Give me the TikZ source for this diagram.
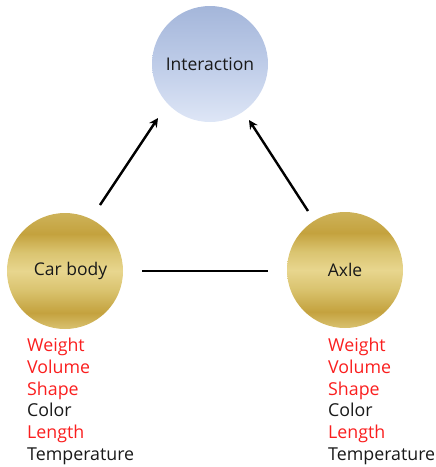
\documentclass[tikz,border=0pt]{standalone}
\usepackage{fontspec}
\setmainfont{Open Sans}
\usetikzlibrary{arrows.meta}
\definecolor{lred}{RGB}{250,30,30}
\definecolor{txt}{RGB}{25,25,25}
\definecolor{gold1}{RGB}{232,214,142}
\definecolor{gold2}{RGB}{196,162,62}
\definecolor{gold3}{RGB}{218,196,112}
\definecolor{gold4}{RGB}{206,180,92}
\definecolor{gold5}{RGB}{226,208,134}
\definecolor{blu1}{RGB}{222,230,246}
\definecolor{blu2}{RGB}{190,204,232}
\definecolor{blu3}{RGB}{164,182,218}
\pgfdeclareverticalshading{goldsh}{100bp}{
  color(0bp)=(gold5); color(22bp)=(gold5); color(32bp)=(gold2);
  color(42bp)=(gold3); color(50bp)=(gold1); color(58bp)=(gold3);
  color(66bp)=(gold2); color(76bp)=(gold4); color(100bp)=(gold4)}
\pgfdeclareverticalshading{bluesh}{100bp}{
  color(0bp)=(blu1); color(25bp)=(blu1); color(50bp)=(blu2); color(75bp)=(blu3); color(100bp)=(blu3)}
\tikzset{
  ball/.style={circle, minimum size=116pt, inner sep=0pt, text=txt, font=\fontsize{17.5}{20}\selectfont},
  goldball/.style={ball, shading=goldsh},
  blueball/.style={ball, shading=bluesh},
  arr/.style={line width=2.4pt, -{Stealth[length=9pt,width=9pt,inset=3pt]}},
  link/.style={line width=2.4pt},
  props/.style={anchor=north west, inner sep=0pt, align=left, text=txt, font=\fontsize{17.8}{21.7}\selectfont}
}
\begin{document}
\begin{tikzpicture}[x=1pt,y=1pt]
\useasboundingbox (0,0) rectangle (436,-467);
\node[blueball] (inter) at (210,-64) {Interaction};
\node[goldball] (car) at (65,-271) {\hspace*{11pt}Car body};
\node[goldball] (axle) at (345,-270) {Axle};
\coordinate (lt) at (100,-205);
\coordinate (lh) at (158,-118);
\coordinate (rt) at (308,-211);
\coordinate (rh) at (249,-120);
\coordinate (ha) at (142,-271);
\coordinate (hb) at (268,-271);
\draw[arr] (lt) -- (lh);
\draw[arr] (rt) -- (rh);
\draw[link] (ha) -- (hb);
\node[props] (carp) at (27,-338) {\textcolor{lred}{Weight}\\\textcolor{lred}{Volume}\\\textcolor{lred}{Shape}\\Color\\\textcolor{lred}{Length}\\Temperature};
\node[props] (axlep) at (328,-338) {\textcolor{lred}{Weight}\\\textcolor{lred}{Volume}\\\textcolor{lred}{Shape}\\Color\\\textcolor{lred}{Length}\\Temperature};
\end{tikzpicture}
\end{document}
